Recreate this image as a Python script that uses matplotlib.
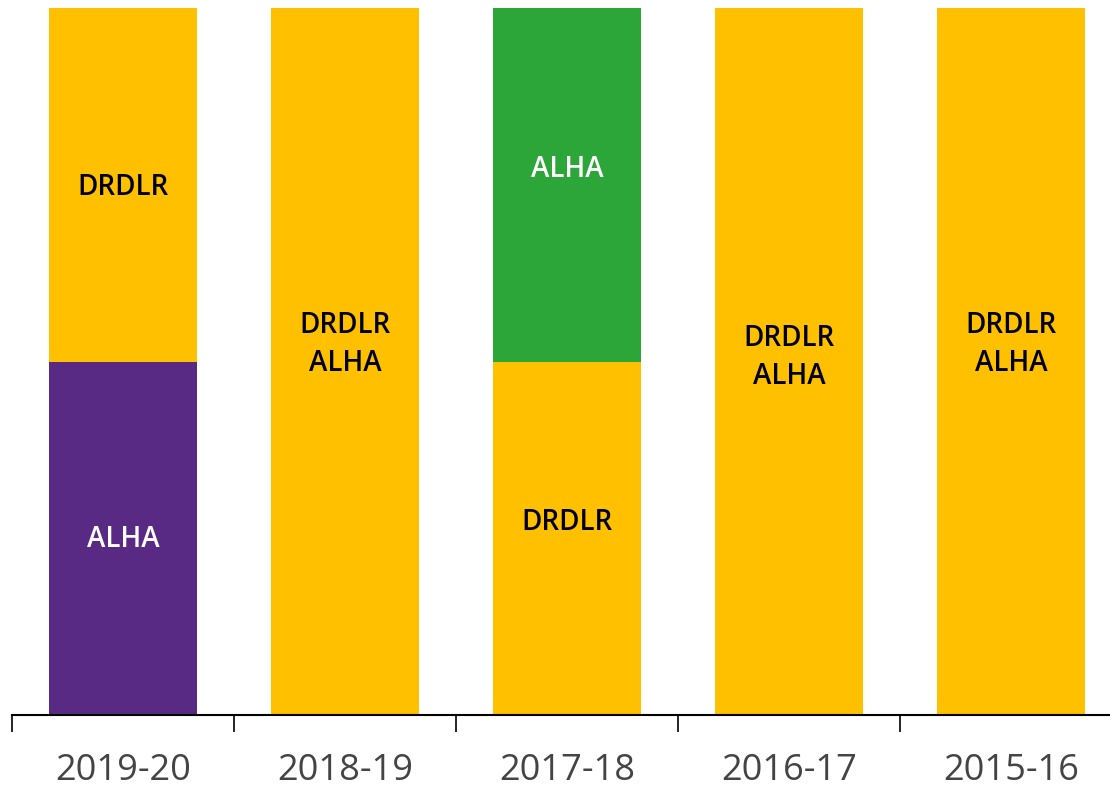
import numpy as np
import matplotlib.pyplot as plt

plt.rcParams['font.family'] = ['Open Sans', 'DejaVu Sans']

years = ["2019-20", "2018-19", "2017-18", "2016-17", "2015-16"]

# stacked segments, bottom to top: (value, label, colour)
bottom_vals = [50, 100, 50, 100, 100]
bottom_labels = ["ALHA", "DRDLR\nALHA", "DRDLR", "DRDLR\nALHA", "DRDLR\nALHA"]
bottom_colors = ["#582A84", "#FFC000", "#FFC000", "#FFC000", "#FFC000"]
bottom_text = ["white", "black", "black", "black", "black"]

top_vals = [50, 0, 50, 0, 0]
top_labels = ["DRDLR", "", "ALHA", "", ""]
top_colors = ["#FFC000", "#FFC000", "#2CA638", "#FFC000", "#FFC000"]
top_text = ["black", "black", "white", "black", "black"]

# small vertical nudges of the labels (points)
bottom_nudge = [-1, 12, 11, 3, 12]
top_nudge = [-2, 0, 11, 0, 0]

fig = plt.figure(figsize=(11.1, 7.88), dpi=100)
ax = fig.add_axes([12 / 1110, 1 - 715 / 788, 1 - 12 / 1110, (715 - 8) / 788])

x = np.arange(len(years))
w = 0.667
ax.bar(x, bottom_vals, width=w, color=bottom_colors)
ax.bar(x, top_vals, width=w, bottom=bottom_vals, color=top_colors)

for i in range(len(years)):
    ax.annotate(bottom_labels[i], (x[i], bottom_vals[i] / 2), xytext=(0, bottom_nudge[i]),
                textcoords="offset points", ha="center", va="center",
                fontsize=20, fontweight="semibold", color=bottom_text[i], linespacing=1.4)
    if top_vals[i] > 0:
        ax.annotate(top_labels[i], (x[i], bottom_vals[i] + top_vals[i] / 2), xytext=(0, top_nudge[i]),
                    textcoords="offset points", ha="center", va="center",
                    fontsize=20, fontweight="semibold", color=top_text[i])

ax.set_xlim(-0.5, -0.5 + (1110 - 12) / 222)
ax.set_ylim(0, 100)

for s in ["top", "right", "left"]:
    ax.spines[s].set_visible(False)
ax.spines["bottom"].set_linewidth(1.5)
ax.set_yticks([])

ax.set_xticks(x)
ax.set_xticklabels(years, fontsize=26, color="#444444")
ax.tick_params(axis="x", which="major", length=0, pad=27)
ax.set_xticks(np.arange(-0.5, 4, 1), minor=True)
ax.tick_params(axis="x", which="minor", length=12, width=1.2, direction="out")

fig.savefig("out.png", dpi=100)
